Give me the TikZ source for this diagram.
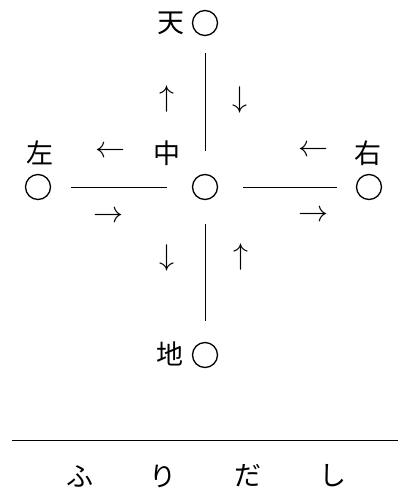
\RequirePackage{fix-cm}
\documentclass[tikz,border=0pt]{standalone}
\usepackage{fontspec}
\newfontfamily\jpfont{Noto Sans CJK JP}
\usetikzlibrary{positioning}
\tikzset{
  spot/.style={
    shape = circle,
    draw,
    line width = 1.3pt,
    minimum size = 25pt,
    inner sep = 0pt
  },
  kanji/.style={
    font = \jpfont\fontsize{27}{27}\selectfont,
    inner sep = 0pt
  },
  arr/.style={
    font = \fontsize{30}{30}\selectfont,
    inner sep = 0pt
  },
  wire/.style={
    line width = 1pt
  },
}

\begin{document}
\begin{tikzpicture}[x=1pt,y=-1pt]
\useasboundingbox (0,0) rectangle (398,493);
% five spots
\node[spot] (ten) at (205,23) {};
\node[spot] (naka) at (205,187) {};
\node[spot] (hidari) at (38,187) {};
\node[spot] (migi) at (369,187) {};
\node[spot] (chi) at (205,355) {};
\node[kanji] (tenT) at (171,23) {天};
\node[kanji] (nakaT) at (167,153) {中};
\node[kanji] (hidariT) at (40,153) {左};
\node[kanji] (migiT) at (368,153) {右};
\node[kanji] (chiT) at (170,354) {地};
% lines
\draw[wire, shorten <=17pt, shorten >=23pt] (ten) -- (naka);
\draw[wire, shorten <=24pt, shorten >=21pt] (naka) -- (chi);
\draw[wire, shorten <=20pt, shorten >=25pt] (hidari) -- (naka);
\draw[wire, shorten <=25pt, shorten >=19pt] (naka) -- (migi);
% arrows
\foreach \n/\x/\y/\s in {a1/167/99/\uparrow, a2/240/100/\downarrow,
    a3/110/152/\leftarrow, a4/108/217/\rightarrow,
    a5/313/151/\leftarrow, a6/313/216/\rightarrow,
    a7/167/258/\downarrow, a8/241/257/\uparrow}{
  \node[arr] (\n) at (\x,\y) {$\s$};
}
% start
\coordinate (rl) at (12,440);
\coordinate (rr) at (398,440);
\draw[wire] (rl) -- (rr);
\node[kanji] (k1) at (80,476) {ふ};
\node[kanji] (k2) at (163,476) {り};
\node[kanji] (k3) at (248,476) {だ};
\node[kanji] (k4) at (333,476) {し};
\end{tikzpicture}
\end{document}
